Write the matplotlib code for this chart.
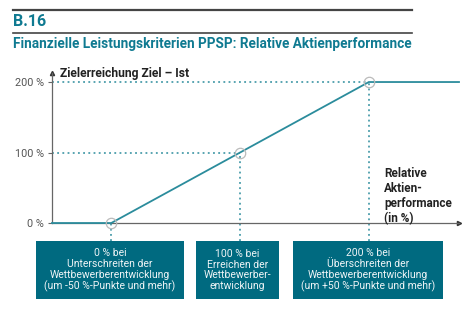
import numpy as np
import matplotlib
matplotlib.use("Agg")
from matplotlib import pyplot as plt
from matplotlib.patches import Rectangle

plt.rcParams['font.family'] = ['Roboto', 'DejaVu Sans']

# payout curve: relative share performance (pp) -> target achievement (%)
perf = [-73, -50, 0, 50, 85]
achieve = [0, 0, 100, 200, 200]
key_perf = [-50, 0, 50]
key_achieve = [0, 100, 200]
yticks = [0, 100, 200]
ytick_labels = ["0 %", "100 %", "200 %"]
box_texts = [
    "0 % bei\nUnterschreiten der\nWettbewerberentwicklung\n(um -50 %-Punkte und mehr)",
    "100 % bei\nErreichen der\nWettbewerber-\nentwicklung",
    "200 % bei\nÜberschreiten der\nWettbewerberentwicklung\n(um +50 %-Punkte und mehr)",
]

W, H = 464, 326
teal = '#0f7a91'
line_c = '#2b8c9c'
box_c = '#006a80'
grey = '#555555'

fig = plt.figure(figsize=(W / 100, H / 100), dpi=100)


def fx(px):
    return px / W


def fy(py):
    return 1 - py / H


# header
fig.add_artist(plt.Line2D([fx(13), fx(412)], [fy(10), fy(10)], color='#444444', lw=1.6))
fig.add_artist(plt.Line2D([fx(13), fx(412)], [fy(33), fy(33)], color='#444444', lw=1.2))
fig.text(fx(13), fy(22), "B.16", color=teal, fontsize=11.5, fontweight='bold', va='center')
fig.text(fx(13), fy(44), "Finanzielle Leistungskriterien PPSP: Relative Aktienperformance",
         color=teal, fontsize=9.8, fontweight='bold', va='center')

ymax = 212.8
ymin = -25.5
ax = fig.add_axes([fx(52), fy(241), fx(459) - fx(52), fy(73) - fy(241)])
ax.set_xlim(-73, 85)
ax.set_ylim(ymin, ymax)
for s in ['top', 'right']:
    ax.spines[s].set_visible(False)
ax.spines['bottom'].set_position(('data', 0))
ax.spines['left'].set_bounds(0, ymax)
for s in ['bottom', 'left']:
    ax.spines[s].set_color('#666666')
    ax.spines[s].set_linewidth(0.9)
ax.set_xticks([])
ax.set_yticks(yticks)
ax.set_yticklabels(ytick_labels, fontsize=7.8, color=grey)
ax.tick_params(axis='y', length=3, width=0.8, color='#666666', pad=3)
ax.patch.set_alpha(0)

# axis arrows
ax.plot(1, 0, '>', color='#333333', ms=3, transform=ax.get_yaxis_transform(), clip_on=False)
ax.plot(-73, ymax, '^', color='#333333', ms=3, clip_on=False)

# dotted guides
for xp, yp in zip(key_perf, key_achieve):
    ax.plot([xp, xp], [ymin, yp], color=line_c, lw=1.1, ls=(0, (1.2, 2.2)), clip_on=False)
    if yp > 0:
        ax.plot([-73, xp], [yp, yp], color=line_c, lw=1.1, ls=(0, (1.2, 2.2)))

ax.plot(perf, achieve, color=line_c, lw=1.3, clip_on=False, zorder=3)
ax.plot(key_perf, key_achieve, 'o', ms=7.5, mfc='none', mec='#bbbbbb', mew=0.9, zorder=4, clip_on=False)

fig.text(fx(60), fy(74), "Zielerreichung Ziel – Ist", fontsize=8.7, fontweight='bold',
         color='#222222', va='center')
fig.text(fx(384), fy(167), "Relative\nAktien-\nperformance\n(in %)", fontsize=8.5,
         fontweight='bold', color='#222222', va='top', linespacing=1.2)

# explanation boxes
boxes = [(36, 184), (196, 279), (293, 443)]
for (x0, x1), txt in zip(boxes, box_texts):
    fig.add_artist(Rectangle((fx(x0), fy(299)), fx(x1) - fx(x0), fy(241) - fy(299),
                             transform=fig.transFigure, facecolor=box_c, edgecolor='none'))
    fig.text(fx((x0 + x1) / 2), fy(270), txt, ha='center', va='center', fontsize=7.5,
             color='#eef4f6', linespacing=1.12)

fig.savefig("out.png", dpi=100)
